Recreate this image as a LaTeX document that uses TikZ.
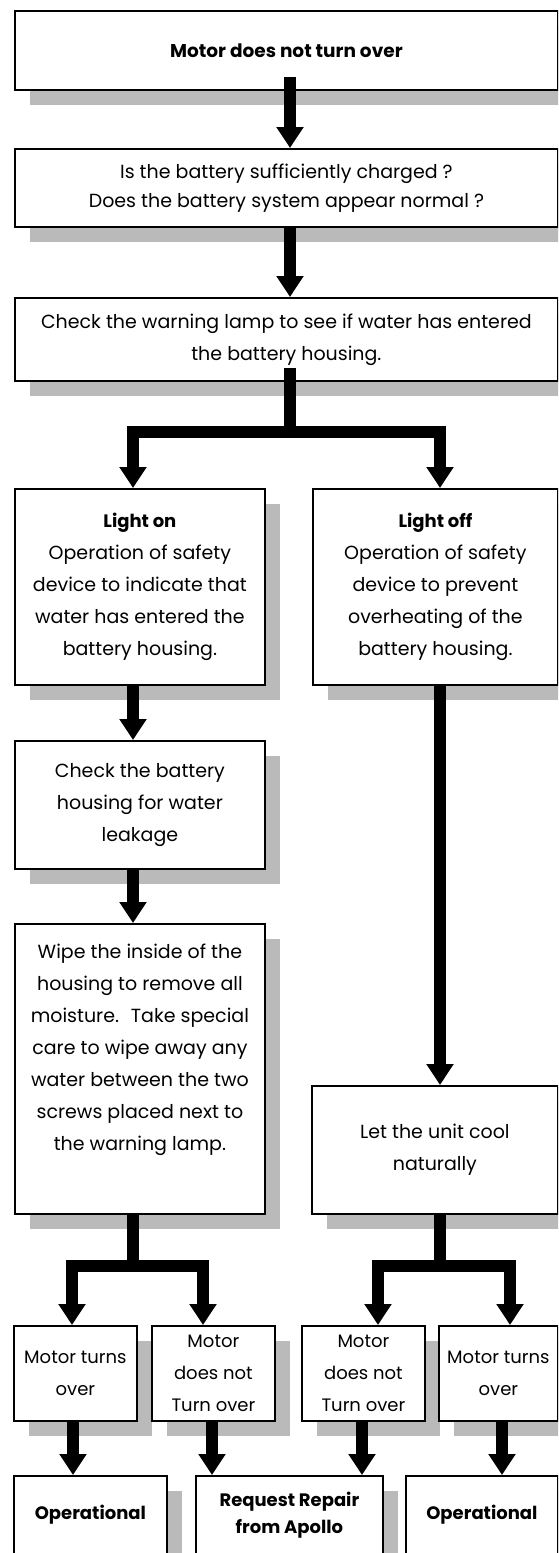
\documentclass[tikz,border=0pt]{standalone}
\usepackage{fontspec}
\setmainfont{Poppins}
\usetikzlibrary{arrows.meta,shadows}
\begin{document}
\begin{tikzpicture}[x=1pt,y=-1pt,
  box/.style={draw, line width=1.8pt, fill=white, inner sep=0pt, align=center,
    anchor=north west, font=\fontsize{19}{32}\selectfont,
    drop shadow={shadow xshift=15pt, shadow yshift=-15pt, fill=black!27, opacity=1}},
  small/.style={font=\fontsize{18}{32}\selectfont},
  final/.style={font=\bfseries\fontsize{18}{27}\selectfont},
  arr/.style={line width=12pt, line join=miter, -{Triangle[width=26pt,length=21pt]}},
  conn/.style={line width=12pt}]
\useasboundingbox (0,0) rectangle (558,1553);
\clip (0,0) rectangle (558,1553);
% column positions
\coordinate (M) at (290,0);
\coordinate (L) at (133,0);
\coordinate (R) at (440,0);
\coordinate (LL) at (72,0);
\coordinate (LR) at (203,0);
\coordinate (RL) at (378,0);
\coordinate (RR) at (510,0);
\coordinate (C1) at (73,0);
\coordinate (C2) at (212,0);
\coordinate (C3) at (362,0);
\coordinate (C4) at (502,0);
\coordinate (Y1) at (0,432);
\coordinate (Y2) at (0,1266);
% boxes
\node[box, minimum width=543pt, minimum height=79pt, font=\bfseries\fontsize{18.5}{30}\selectfont] (b1) at (14,10) {Motor does not turn over};
\node[box, minimum width=543pt, minimum height=78pt, font=\fontsize{19}{29}\selectfont] (b2) at (14,148) {Is the battery sufficiently charged ?\\Does the battery system appear normal ?};
\node[box, minimum width=543pt, minimum height=83pt] (b3) at (14,297) {Check the warning lamp to see if water has entered\\the battery housing.};
\node[box, minimum width=250pt, minimum height=196pt] (lon) at (14,488) {{\bfseries\fontsize{18}{32}\selectfont Light on}\\Operation of safety\\device to indicate that\\water has entered the\\battery housing.};
\node[box, minimum width=245pt, minimum height=196pt] (loff) at (312,488) {{\bfseries\fontsize{18}{32}\selectfont Light off}\\Operation of safety\\device to prevent\\overheating of the\\battery housing.};
\node[box, minimum width=250pt, minimum height=128pt] (chk) at (14,740) {Check the battery\\housing for water\\leakage};
\node[box, minimum width=250pt, minimum height=290pt] (wipe) at (14,923) {Wipe the inside of the\\housing to remove all\\moisture.~ Take special\\care to wipe away any\\water between the two\\screws placed next to\\the warning lamp.\\[0pt]\rule{0pt}{38pt}};
\node[box, minimum width=246pt, minimum height=128pt] (cool) at (311,1085) {Let the unit cool\\naturally};
\node[box, small, minimum width=123pt, minimum height=95pt] (m1) at (13,1325) {Motor turns\\over};
\node[box, small, minimum width=123pt, minimum height=95pt] (m2) at (151,1325) {Motor\\does not\\Turn over};
\node[box, small, minimum width=123pt, minimum height=95pt] (m3) at (301,1325) {Motor\\does not\\Turn over};
\node[box, small, minimum width=119pt, minimum height=95pt] (m4) at (438,1325) {Motor turns\\over};
\node[box, final, minimum width=153pt, minimum height=110pt] (op1) at (13,1475) {Operational\\[0pt]\rule{0pt}{32pt}};
\node[box, final, minimum width=187pt, minimum height=110pt] (rep) at (195,1475) {Request Repair\\from Apollo\\[0pt]\rule{0pt}{30pt}};
\node[box, final, minimum width=152pt, minimum height=110pt] (op2) at (405,1475) {Operational\\[0pt]\rule{0pt}{32pt}};
% connectors
\draw[arr] ([yshift=14pt]b1.south -| M) -- (b2.north -| M);
\draw[arr] (b2.south -| M) -- (b3.north -| M);
\coordinate (j1) at (M |- Y1);
\draw[conn] ([yshift=14pt]b3.south -| M) -- (j1);
\draw[arr] (j1) -| (lon.north -| L);
\draw[arr] (j1) -| (loff.north -| R);
\draw[arr] (lon.south -| L) -- (chk.north -| L);
\draw[arr] (chk.south -| L) -- (wipe.north -| L);
\draw[arr] (loff.south -| R) -- (cool.north -| R);
\coordinate (j2) at (L |- Y2);
\draw[conn] (wipe.south -| L) -- (j2);
\draw[arr] (j2) -| (m1.north -| LL);
\draw[arr] (j2) -| (m2.north -| LR);
\coordinate (j3) at (R |- Y2);
\draw[conn] (cool.south -| R) -- (j3);
\draw[arr] (j3) -| (m3.north -| RL);
\draw[arr] (j3) -| (m4.north -| RR);
\draw[arr] (m1.south -| C1) -- (op1.north -| C1);
\draw[arr] (m2.south -| C2) -- (rep.north -| C2);
\draw[arr] (m3.south -| C3) -- (rep.north -| C3);
\draw[arr] (m4.south -| C4) -- (op2.north -| C4);
\end{tikzpicture}
\end{document}
